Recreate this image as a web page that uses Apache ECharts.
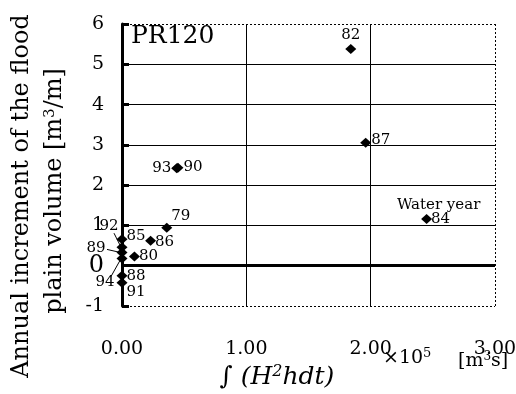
<!DOCTYPE html>
<html>
<head>
<meta charset="utf-8">
<script src="https://cdn.jsdelivr.net/npm/echarts@6/dist/echarts.min.js"></script>
<style>
  html, body { margin: 0; padding: 0; background: #fff; }
  #chart { width: 516px; height: 394px; }
</style>
</head>
<body>
<div id="chart"></div>
<script>
// Water years (last two digits) and their measured values
const years = ['79', '80', '82', '84', '85', '86', '87', '88', '89', '90', '91', '92', '93', '94'];
// Integral of H^2 h dt, in units of 10^5 m^3 s
const flowIntegral = [0.36, 0.10, 1.84, 2.45, 0.00, 0.23, 1.96, 0.00, 0.00, 0.45, 0.00, 0.00, 0.44, 0.00];
// Annual increment of the flood plain volume, m^3/m
const volumeIncrement = [0.94, 0.23, 5.38, 1.16, 0.66, 0.62, 3.05, -0.25, 0.33, 2.43, -0.42, 0.46, 2.42, 0.18];
const xTickLabels = ['0.00', '1.00', '2.00', '3.00'];
const yTickLabels = ['-1', '0', '1', '2', '3', '4', '5', '6'];

const SERIF = '"DejaVu Serif", "Liberation Serif", serif';

// Pixel offset of each year label from its marker centre
const labelOffset = {
  '79': [14, -12], '80': [14, 0], '82': [0, -14], '84': [14, 0],
  '85': [14, -3], '86': [14, 1], '87': [15, -3], '88': [14, 0],
  '89': [-26, -4], '90': [15, -1], '91': [14, 9], '92': [-13, -21],
  '93': [-15, 0], '94': [-17, 24]
};
// Leader lines for labels crowded against the vertical axis: [start, end] offsets
const leaders = {
  '92': [[-8, -14], [-2, -2]],
  '89': [[-15, -3], [-2, 0]],
  '94': [[-11, 18], [-2, 2]]
};

const points = years.map((yr, i) => [flowIntegral[i], volumeIncrement[i]]);
const annotated = years.map((yr, i) => [flowIntegral[i], volumeIncrement[i], i]);

const chart = echarts.init(document.getElementById('chart'), null, { renderer: 'canvas' });

chart.setOption({
  backgroundColor: '#fff',
  animation: false,
  grid: { left: 122, right: 21, top: 24, bottom: 88, containLabel: false, outerBoundsMode: 'none' },
  xAxis: {
    type: 'value', min: 0, max: 3, interval: 1,
    axisLine: { show: false, onZero: false },
    axisTick: { show: false },
    axisLabel: {
      margin: 34,
      fontFamily: SERIF, fontSize: 19, color: '#000',
      formatter: v => {
        const t = xTickLabels[Math.round(v)];
        return v === 3 ? '{hi|' + t + '}' : t;
      },
      rich: { hi: { fontFamily: SERIF, fontSize: 19, color: '#000', padding: [0, 0, 9, 0] } }
    },
    splitLine: { show: true, showMinLine: false, showMaxLine: false, lineStyle: { color: '#000', width: 1 } }
  },
  yAxis: {
    type: 'value', min: -1, max: 6, interval: 1,
    axisLine: { show: true, onZero: false, lineStyle: { color: '#000', width: 3 } },
    axisTick: { show: true, inside: true, length: 7, lineStyle: { color: '#000', width: 3 } },
    axisLabel: {
      margin: 18, fontFamily: SERIF, fontSize: 19, color: '#000',
      formatter: v => {
        const t = yTickLabels[Math.round(v) + 1];
        return v === 0 ? '{big|' + t + '}' : t;
      },
      rich: { big: { fontFamily: SERIF, fontSize: 24, color: '#000' } }
    },
    splitLine: { show: true, showMinLine: false, showMaxLine: false, lineStyle: { color: '#000', width: 1 } }
  },
  series: [
    {
      type: 'scatter',
      symbol: 'diamond',
      symbolSize: [11, 10],
      itemStyle: { color: '#000', opacity: 1 },
      data: points,
      z: 5,
      markLine: {
        silent: true, symbol: 'none', label: { show: false },
        data: [
          { yAxis: 0, lineStyle: { color: '#000', width: 3, type: 'solid' } },
          { yAxis: 6, lineStyle: { color: '#000', width: 1, type: [2, 2] } },
          { yAxis: -1, lineStyle: { color: '#000', width: 1, type: [2, 2] } },
          { xAxis: 3, lineStyle: { color: '#000', width: 1, type: [2, 2] } }
        ]
      }
    },
    {
      // year labels, leader lines and the "Water year" note, anchored to their points
      type: 'custom',
      silent: true,
      z: 6,
      data: annotated,
      renderItem: (params, api) => {
        const yr = years[api.value(2)];
        const p = api.coord([api.value(0), api.value(1)]);
        const off = labelOffset[yr];
        const children = [{
          type: 'text',
          style: {
            x: p[0] + off[0], y: p[1] + off[1], text: yr,
            font: '15px ' + SERIF, fill: '#000', align: 'center', verticalAlign: 'middle'
          }
        }];
        if (leaders[yr]) {
          const [s, e] = leaders[yr];
          children.push({
            type: 'line',
            shape: { x1: p[0] + s[0], y1: p[1] + s[1], x2: p[0] + e[0], y2: p[1] + e[1] },
            style: { stroke: '#000', lineWidth: 1 }
          });
        }
        if (yr === '84') {
          children.push({
            type: 'text',
            style: {
              x: p[0] + 12, y: p[1] - 14, text: 'Water year',
              font: '15px ' + SERIF, fill: '#000', align: 'center', verticalAlign: 'middle'
            }
          });
        }
        return { type: 'group', children };
      }
    }
  ],
  graphic: [
    {
      type: 'text', left: 131, top: 24, z: 10,
      style: { text: 'PR120', font: '25px ' + SERIF, fill: '#000' }
    },
    {
      type: 'text', x: 22, y: 196, rotation: Math.PI / 2,
      style: {
        text: 'Annual increment of the flood', font: '24px ' + SERIF, fill: '#000',
        align: 'center', verticalAlign: 'middle'
      }
    },
    {
      type: 'text', x: 55, y: 191, rotation: Math.PI / 2,
      style: {
        text: 'plain volume [m{sup|3}/m]', font: '24px ' + SERIF, fill: '#000',
        align: 'center', verticalAlign: 'middle',
        rich: { sup: { font: '15px ' + SERIF, fill: '#000', verticalAlign: 'top', padding: [0, 0, 10, 0] } }
      }
    },
    {
      type: 'text', x: 277, y: 377,
      style: {
        text: '∫ (H{sup|2}hdt)', font: 'italic 25px ' + SERIF, fill: '#000',
        align: 'center', verticalAlign: 'middle',
        rich: { sup: { font: 'italic 16px ' + SERIF, fill: '#000', padding: [0, 0, 11, 0] } }
      }
    },
    {
      type: 'text', x: 383, y: 358,
      style: {
        text: '×10{sup|5}', font: '19px ' + SERIF, fill: '#000',
        align: 'left', verticalAlign: 'middle',
        rich: { sup: { font: '13px ' + SERIF, fill: '#000', padding: [0, 0, 9, 0] } }
      }
    },
    {
      type: 'text', x: 458, y: 361,
      style: {
        text: '[m{sup|3}s]', font: '19px ' + SERIF, fill: '#000',
        align: 'left', verticalAlign: 'middle',
        rich: { sup: { font: '12px ' + SERIF, fill: '#000', padding: [0, 0, 8, 0] } }
      }
    }
  ]
});
</script>
</body>
</html>
